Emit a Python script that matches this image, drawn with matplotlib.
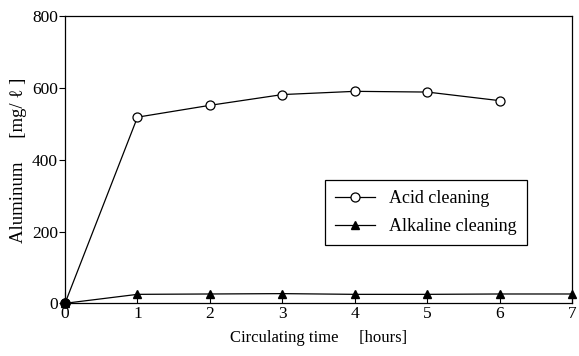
import matplotlib
matplotlib.use("Agg")
import matplotlib.pyplot as plt

hours = [0, 1, 2, 3, 4, 5, 6, 7]
acid_hours = [0, 1, 2, 3, 4, 5, 6]
acid_values = [0, 519, 552, 582, 591, 589, 565]
alkaline_values = [0, 25, 26, 27, 25, 25, 26, 26]
x_ticks = [0, 1, 2, 3, 4, 5, 6, 7]
y_ticks = [0, 200, 400, 600, 800]

plt.rcParams['font.family'] = ['Liberation Serif', 'DejaVu Serif']

fig = plt.figure(figsize=(5.79, 3.56), dpi=100)
ax = fig.add_axes([0.1123, 0.148, 0.876, 0.806])

ax.plot(acid_hours, acid_values, color='black', lw=0.9, marker='o', ms=6.5,
        mfc='white', mec='black', mew=0.9, label='Acid cleaning', clip_on=False, zorder=3)
ax.plot(hours, alkaline_values, color='black', lw=0.9, marker='^', ms=6,
        mfc='black', mec='black', label='Alkaline cleaning', clip_on=False, zorder=3)
ax.plot([hours[0]], [alkaline_values[0]], marker='o', ms=6.5, color='black',
        clip_on=False, zorder=4)

ax.set_xlim(0, 7)
ax.set_ylim(0, 800)
ax.set_xticks(x_ticks)
ax.set_yticks(y_ticks)
ax.tick_params(axis='x', direction='in', length=8, width=0.8, labelsize=12.5, pad=2)
ax.tick_params(axis='y', direction='out', length=4, width=0.8, labelsize=12.5, pad=1)
for s in ax.spines.values():
    s.set_linewidth(0.9)

ax.set_xlabel('Circulating time     [hours]', fontsize=12, labelpad=6)
ax.set_ylabel('Aluminum     [mg/ ℓ ]', fontsize=13.5, labelpad=4)

leg = ax.legend(loc='upper left', bbox_to_anchor=(0.495, 0.46), fontsize=13,
                frameon=True, fancybox=False, edgecolor='black', framealpha=1,
                handlelength=2.2, borderpad=0.55, labelspacing=0.6, handletextpad=0.8)
leg.get_frame().set_linewidth(0.9)

fig.savefig('out.png', dpi=100)
